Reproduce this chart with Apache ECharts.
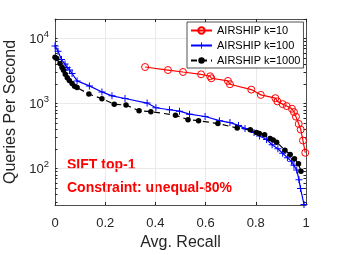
<!DOCTYPE html>
<html>
<head>
<meta charset="utf-8">
<script src="https://cdn.jsdelivr.net/npm/echarts@6/dist/echarts.min.js"></script>
<style>html,body{margin:0;padding:0;background:#fff}#c{width:339px;height:255px}</style>
</head>
<body>
<div id="c"></div>
<script>
const seriesNames = ['AIRSHIP k=10', 'AIRSHIP k=100', 'AIRSHIP k=1000'];
const redRecall = [0.359,0.450,0.510,0.582,0.618,0.623,0.689,0.697,0.782,0.820,0.878,0.886,0.907,0.923,0.944,0.952,0.960,0.971,0.979,0.988,0.997];
const redQps = [3650,3280,3060,2820,2630,2450,2230,1985,1640,1360,1210,1080,980,915,833,741,629,486,398,270,175];
const blueRecall = [0,0.012,0.026,0.040,0.048,0.058,0.068,0.088,0.137,0.187,0.227,0.279,0.367,0.402,0.456,0.496,0.536,0.598,0.655,0.697,0.731,0.757,0.793,0.815,0.843,0.865,0.888,0.907,0.926,0.942,0.952,0.963,0.972,0.978,0.992];
const blueQps = [7710,6400,4750,4050,3580,3280,2900,2230,1870,1510,1315,1195,1018,863,804,763,687,633,546,509,461,415,358,317,280,232,202,172,147,129,112,95,67,49.5,28];
const blackRecall = [0,0.007,0.020,0.028,0.034,0.041,0.049,0.057,0.068,0.078,0.088,0.135,0.187,0.236,0.283,0.335,0.382,0.480,0.530,0.572,0.649,0.726,0.778,0.803,0.814,0.835,0.857,0.869,0.883,0.916,0.937,0.954,0.970,0.980];
const blackQps = [5180,4920,4120,3580,3250,2820,2500,2270,2040,1850,1760,1400,1190,976,948,777,750,663,566,546,492,420,395,358,346,330,290,275,255,192,165,142,119,91];
const xTicks = ['0','0.2','0.4','0.6','0.8','1'];
const annotations = ['SIFT top-1', 'Constraint: unequal-80%'];
const xTitle = 'Avg. Recall';
const yTitle = 'Queries Per Second';

const Y_MIN = 27.5, Y_MAX = 20000;
const logTicks = [];
for (let e = 1; e <= 4; e++) for (let m = 1; m <= 9; m++) { const v = m * Math.pow(10, e); if (v >= Y_MIN && v <= Y_MAX) logTicks.push(v); }

const FONT = '"Liberation Sans", Arial, Helvetica, sans-serif';
const AX = '#262626';
const GRIDC = '#e4e4e4';
const zip = (a, b) => a.map((v, i) => [v, b[i]]);
const plusPath = 'path://M4.3,0h1.4v10h-1.4z M0,4.3h10v1.4h-10z';

const chart = echarts.init(document.getElementById('c'), null, {renderer: 'canvas'});
const yLabel = v => {
  const l = Math.log10(v), e = Math.round(l);
  if (Math.abs(l - e) > 1e-6) return '';
  return '{b|10}{s|' + e + '}';
};
const hiddenLog = (pos) => ({
  type: 'log', logBase: 10, min: Y_MIN, max: Y_MAX, position: pos,
  axisLine: {show: true, lineStyle: {color: AX, width: 0.8}},
  axisTick: {show: true, inside: true, length: 2.5, lineStyle: {color: AX}, customValues: logTicks},
  axisLabel: {show: false}, splitLine: {show: false}
});
chart.setOption({
  animation: false,
  backgroundColor: '#fff',
  textStyle: {fontFamily: FONT},
  grid: {left: 55, top: 19, width: 251, height: 186, containLabel: false, outerBoundsMode: 'none'},
  legend: {
    orient: 'vertical', left: 187, top: 22,
    padding: [3, 3, 2, 3], itemWidth: 21, itemHeight: 8, itemGap: 4,
    borderColor: AX, borderWidth: 0.8, backgroundColor: '#fff',
    textStyle: {fontSize: 11, color: '#000', fontFamily: FONT},
    data: seriesNames
  },
  xAxis: [{
    type: 'value', min: 0, max: 1, interval: 0.2,
    axisLine: {show: true, lineStyle: {color: AX, width: 0.8}},
    axisTick: {show: true, inside: true, length: 3, lineStyle: {color: AX}},
    axisLabel: {fontSize: 13, color: AX, margin: 12, fontFamily: FONT,
      formatter: (v) => xTicks[Math.round(v / 0.2)] || ''},
    splitLine: {show: true, lineStyle: {color: GRIDC, width: 0.8}},
    name: xTitle, nameLocation: 'middle', nameGap: 29,
    nameTextStyle: {fontSize: 16, color: AX, fontFamily: FONT}
  }, {
    type: 'value', min: 0, max: 1, interval: 0.2, position: 'top',
    axisLine: {show: true, lineStyle: {color: AX, width: 0.8}},
    axisTick: {show: true, inside: true, length: 3, lineStyle: {color: AX}},
    axisLabel: {show: false}, splitLine: {show: false}
  }],
  yAxis: [{
    type: 'log', logBase: 10, min: Y_MIN, max: Y_MAX, position: 'left',
    axisLine: {show: false}, axisTick: {show: false},
    axisLabel: {color: AX, margin: 6, fontFamily: FONT, formatter: yLabel,
      rich: {
        b: {fontSize: 13, color: AX, fontFamily: FONT, verticalAlign: 'bottom', lineHeight: 14},
        s: {fontSize: 9.5, color: AX, fontFamily: FONT, verticalAlign: 'bottom', lineHeight: 14, padding: [0, 0, 6, 0]}
      }},
    splitLine: {show: true, lineStyle: {color: GRIDC, width: 0.8}},
    name: yTitle, nameLocation: 'middle', nameGap: 34, nameRotate: 90,
    nameTextStyle: {fontSize: 16, color: AX, fontFamily: FONT}
  }, hiddenLog('left'), hiddenLog('right')],
  series: [{
    name: seriesNames[0], type: 'line', data: zip(redRecall, redQps),
    symbol: 'circle', symbolSize: 7, color: '#ff0000',
    lineStyle: {color: '#ff0000', width: 1.2},
    itemStyle: {color: 'rgba(255,255,255,0)', borderColor: '#ff0000', borderWidth: 1},
    z: 4
  }, {
    name: seriesNames[1], type: 'line', data: zip(blueRecall, blueQps),
    symbol: plusPath, symbolSize: 7, color: '#0000ff',
    lineStyle: {color: '#0000ff', width: 1.2},
    itemStyle: {color: '#0000ff'},
    z: 3
  }, {
    name: seriesNames[2], type: 'line', data: zip(blackRecall, blackQps),
    symbol: 'circle', symbolSize: 5.5, color: '#000',
    lineStyle: {color: '#000', width: 1.2, type: [6, 4]},
    itemStyle: {color: '#000'},
    z: 3
  }],
  graphic: [{
    type: 'text', left: 67, top: 158,
    style: {text: annotations[0], fill: '#ff0000', font: 'bold 14px ' + FONT}
  }, {
    type: 'text', left: 67, top: 181,
    style: {text: annotations[1], fill: '#ff0000', font: 'bold 14px ' + FONT}
  }]
});
</script>
</body>
</html>
